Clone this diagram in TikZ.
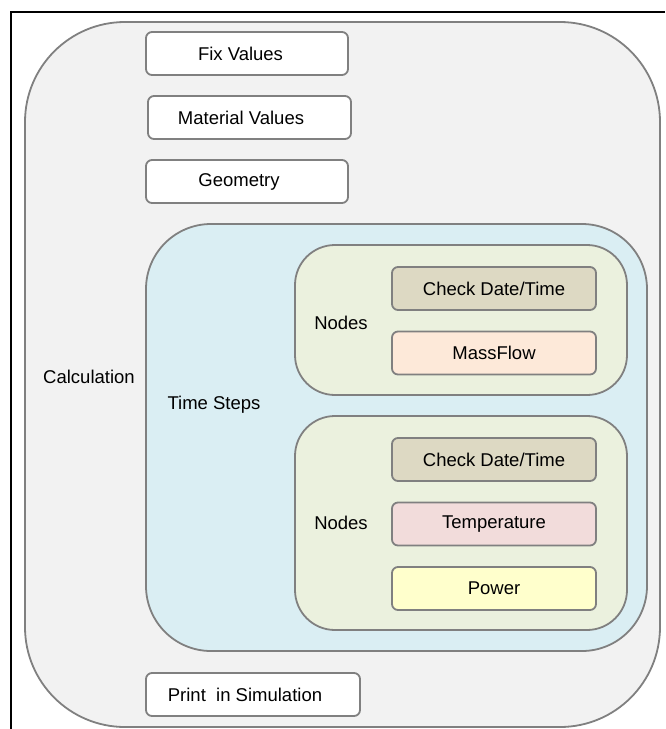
\documentclass[tikz,border=0pt]{standalone}
\usepackage{fontspec}
\setmainfont{Liberation Sans}
\definecolor{edgegray}{HTML}{808080}
\definecolor{calcfill}{HTML}{F2F2F2}
\definecolor{stepfill}{HTML}{DAEEF3}
\definecolor{nodefill}{HTML}{EBF1DE}
\definecolor{checkfill}{HTML}{DDD9C3}
\definecolor{massfill}{HTML}{FDE9D9}
\definecolor{tempfill}{HTML}{F2DCDB}
\definecolor{powerfill}{HTML}{FFFFCC}
\begin{document}
\begin{tikzpicture}[x=1pt,y=-1pt,
  every node/.style={font=\fontsize{18.5}{22}\selectfont,inner sep=0pt},
  area/.style={draw=edgegray,line width=1.8pt},
  item/.style={draw=edgegray,line width=1.8pt,rounded corners=6pt,minimum height=43pt},
  valbox/.style={item,fill=white,minimum width=202pt},
  subbox/.style={item,minimum width=204pt}]
  \useasboundingbox (0,0) rectangle (665,729);
  %\draw (0,0) rectangle (665,729);
  \coordinate (frameR) at (665,12);
  \coordinate (frameTL) at (11,12);
  \coordinate (frameB) at (11,729);
  \draw[line width=1.8pt] (frameR) -- (frameTL) -- (frameB);

  % containers
  \node[area,fill=calcfill,rounded corners=100pt,minimum width=635pt,minimum height=705pt] (calc) at (342.5,374.5) {};
  \node[area,fill=stepfill,rounded corners=65pt,minimum width=501pt,minimum height=427pt] (steps) at (396.5,437.5) {};
  \node[area,fill=nodefill,rounded corners=40pt,minimum width=332pt,minimum height=150pt] (nodesA) at (461,320) {};
  \node[area,fill=nodefill,rounded corners=40pt,minimum width=332pt,minimum height=214pt] (nodesB) at (461,523) {};

  \node (calclbl) at (89,377) {Calculation};
  \node (steplbl) at (214,404.5) {Time Steps};
  \node (nodelblA) at (341,323) {Nodes};
  \node (nodelblB) at (341,523) {Nodes};

  % value boxes
  \node[valbox] (fix) at (247,53.5) {Fix Values\hspace*{13pt}};
  \node[valbox,minimum width=203pt] (mat) at (249.5,117.5) {Material Values\hspace*{17pt}};
  \node[valbox] (geo) at (247,181.5) {Geometry\hspace*{16pt}};
  \node[valbox,minimum width=214pt] (print) at (253,694.5) {Print~ in Simulation\hspace*{16pt}};

  % boxes inside the nodes
  \node[subbox,fill=checkfill] (checkA) at (494,288.5) {Check Date/Time};
  \node[subbox,fill=massfill] (mass) at (494,353) {MassFlow};
  \node[subbox,fill=checkfill] (checkB) at (494,459.5) {Check Date/Time};
  \node[subbox,fill=tempfill] (temp) at (494,524) {Temperature};
  \node[subbox,fill=powerfill] (power) at (494,588.5) {Power};
\end{tikzpicture}
\end{document}
